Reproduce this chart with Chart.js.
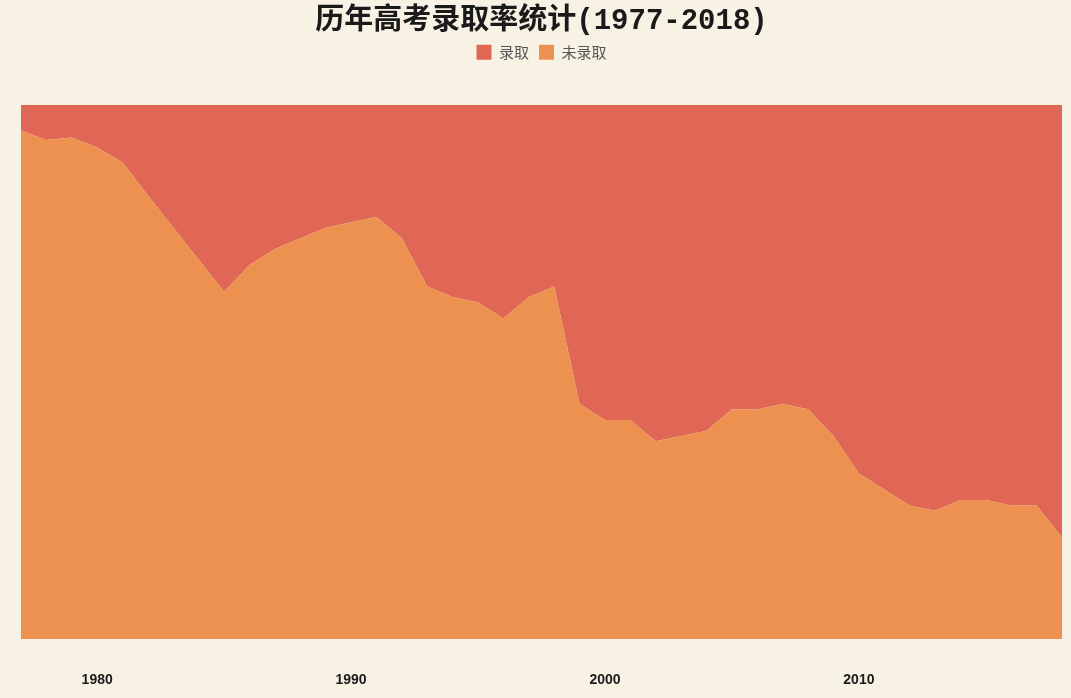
<!DOCTYPE html>
<html lang="zh">
<head>
<meta charset="UTF-8">
<title>历年高考录取率统计</title>
<script src="https://cdn.jsdelivr.net/npm/chart.js"></script>
<style>
    html, body { margin: 0; padding: 0; background: #f8f2e4; }
    #grafico { display: block; }
</style>
</head>
<body>
<canvas id="grafico" width="1071" height="698"></canvas>

<script>
    // anos 1977 - 2018
    const anos = ['1977', '1978', '1979', '1980', '1981', '1982', '1983', '1984', '1985', '1986',
        '1987', '1988', '1989', '1990', '1991', '1992', '1993', '1994', '1995', '1996',
        '1997', '1998', '1999', '2000', '2001', '2002', '2003', '2004', '2005', '2006',
        '2007', '2008', '2009', '2010', '2011', '2012', '2013', '2014', '2015', '2016',
        '2017', '2018'];

    // % admitidos (录取)
    const luqu = [4.8, 6.6, 6.1, 8, 10.8, 17, 23, 29, 35, 30,
        27, 25, 23, 22, 21, 25, 34, 36, 37, 40,
        36, 34, 56, 59, 59, 63, 62, 61, 57, 57,
        56, 57, 62, 69, 72, 75, 76, 74, 74, 75,
        75, 81];

    // % não admitidos (未录取)
    const weiLuqu = [95.2, 93.4, 93.9, 92, 89.2, 83, 77, 71, 65, 70,
        73, 75, 77, 78, 79, 75, 66, 64, 63, 60,
        64, 66, 44, 41, 41, 37, 38, 39, 43, 43,
        44, 43, 38, 31, 28, 25, 24, 26, 26, 25,
        25, 19];

    const anosComRotulo = ['1980', '1990', '2000', '2010'];

    // empurra a area do grafico para baixo da legenda
    const espacoLegenda = {
        id: 'espacoLegenda',
        beforeInit(chart) {
            const fitOriginal = chart.legend.fit;
            chart.legend.fit = function () {
                fitOriginal.bind(chart.legend)();
                this.height += 35;
            };
        }
    };

    const ctx = document.getElementById('grafico').getContext('2d');
    new Chart(ctx, {
        type: 'line',
        data: {
            labels: anos,
            datasets: [
                {
                    label: '未录取',
                    data: weiLuqu,
                    backgroundColor: '#ec9150',
                    borderColor: '#ec9150',
                    borderWidth: 0,
                    fill: 'origin',
                    pointRadius: 0,
                    tension: 0
                },
                {
                    label: '录取',
                    data: luqu,
                    backgroundColor: '#e06756',
                    borderColor: '#e06756',
                    borderWidth: 0,
                    fill: '-1',
                    pointRadius: 0,
                    tension: 0
                }
            ]
        },
        options: {
            responsive: false,
            animation: false,
            layout: { padding: { left: 21, right: 9, top: 3, bottom: 0 } },
            plugins: {
                title: {
                    display: true,
                    text: '历年高考录取率统计(1977-2018)',
                    color: '#1a1a1a',
                    font: { family: '"Liberation Mono", "Noto Sans CJK SC"', size: 29, weight: 'bold' },
                    padding: { top: 1, bottom: -4 }
                },
                legend: {
                    reverse: true,
                    labels: {
                        boxWidth: 15,
                        boxHeight: 15,
                        padding: 10,
                        color: '#555',
                        font: { family: '"Noto Sans CJK SC"', size: 15 }
                    }
                },
                tooltip: { enabled: false }
            },
            scales: {
                x: {
                    offset: false,
                    grid: { display: false },
                    border: { display: false },
                    afterFit: function (escala) {
                        escala.paddingLeft = 0;
                        escala.paddingRight = 0;
                        escala.height = 59;
                    },
                    ticks: {
                        autoSkip: false,
                        maxRotation: 0,
                        padding: 25,
                        color: '#1a1a1a',
                        font: { family: '"Liberation Sans", Arial', size: 14, weight: 'bold' },
                        callback: function (valor, indice) {
                            const ano = anos[indice];
                            return anosComRotulo.includes(ano) ? ano : '';
                        }
                    }
                },
                y: {
                    display: false,
                    stacked: true,
                    min: 0,
                    max: 100
                }
            }
        },
        plugins: [espacoLegenda]
    });
</script>
</body>
</html>
